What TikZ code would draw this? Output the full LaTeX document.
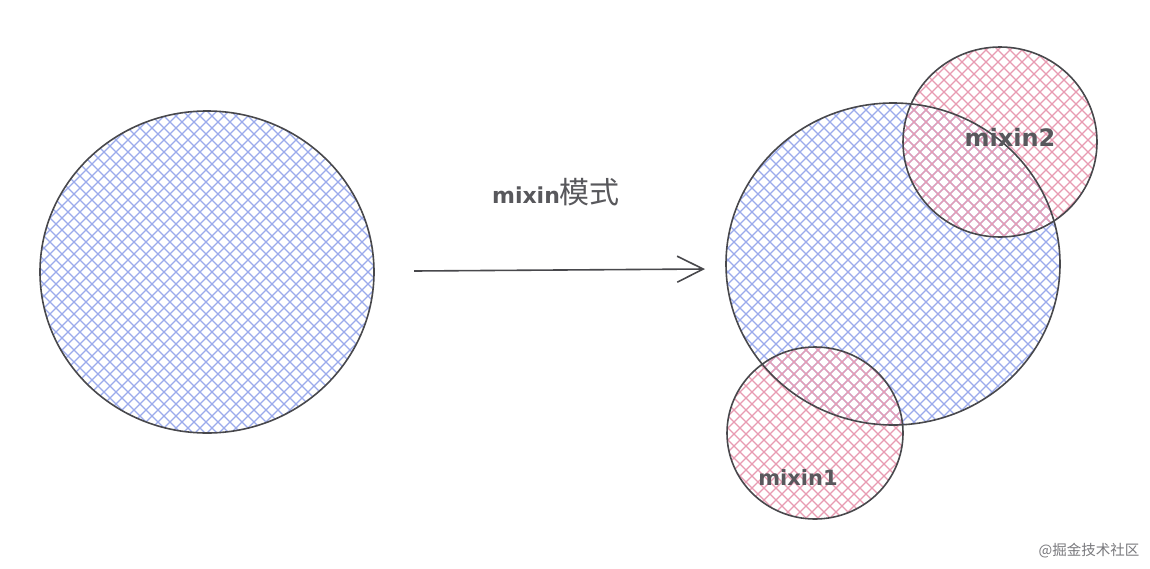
\documentclass[tikz,border=0pt]{standalone}
\usepackage{fontspec}
\setmainfont{DejaVu Sans}
\newfontfamily\cjk{Noto Sans CJK SC}
\usetikzlibrary{shapes.geometric,arrows.meta}
\definecolor{hblue}{RGB}{155,170,236}
\definecolor{hpink}{RGB}{232,155,178}
\definecolor{outl}{RGB}{72,72,76}
\definecolor{txt}{RGB}{88,88,92}
\newcommand{\myhatch}[5]{%
  \begin{scope}
    \clip (#1,#2) ellipse (#3 and #4);
    \foreach \i in {-600,-588,...,1150} {
      \draw[#5, line width=1.1pt] (\i,0) -- ++(568,568);
      \draw[#5, line width=1.1pt] (\i+568,0) -- ++(-568,568);
    }
  \end{scope}}
\tikzset{
  blob/.style={ellipse, draw=outl, line width=1.6pt, inner sep=0pt},
  lbl/.style={text=txt, inner sep=0pt},
}
\begin{document}
\begin{tikzpicture}[x=1pt,y=-1pt]
\fill[white] (0,0) rectangle (1150,568);
\useasboundingbox (0,0) rectangle (1150,568);
% hatching
\myhatch{207}{272}{167}{161}{hblue}
\myhatch{893}{264}{167}{161}{hblue}
\myhatch{1000}{142}{97}{95}{hpink}
\myhatch{815}{433}{88}{86}{hpink}
% outlines
\node[blob, minimum width=334pt, minimum height=322pt] (L) at (207,272) {};
\node[blob, minimum width=334pt, minimum height=322pt] (B) at (893,264) {};
\node[blob, minimum width=194pt, minimum height=190pt] (M2) at (1000,142) {};
\node[blob, minimum width=176pt, minimum height=172pt] (M1) at (815,433) {};
% arrow
\coordinate (a1) at (414,271);
\coordinate (a2) at (705,269);
\draw[outl, line width=1.6pt, -{Straight Barb[length=26pt, width=26pt, line width=1.6pt]}] (a1) -- (a2);
% labels
\node[lbl, anchor=base] (t) at (556,203) {{\fontsize{22}{22}\selectfont\bfseries mixin}{\cjk\fontsize{30}{30}\selectfont 模式}};
\node[lbl, anchor=base, font=\fontsize{24}{24}\selectfont\bfseries] (t2) at (1010,146) {mixin2};
\node[lbl, anchor=base, font=\fontsize{21}{21}\selectfont\bfseries] (t1) at (798,485) {mixin1};
\node[text=txt!80, font=\cjk\fontsize{14.5}{14.5}\selectfont] (w) at (1089,551) {@掘金技术社区};
\end{tikzpicture}
\end{document}
